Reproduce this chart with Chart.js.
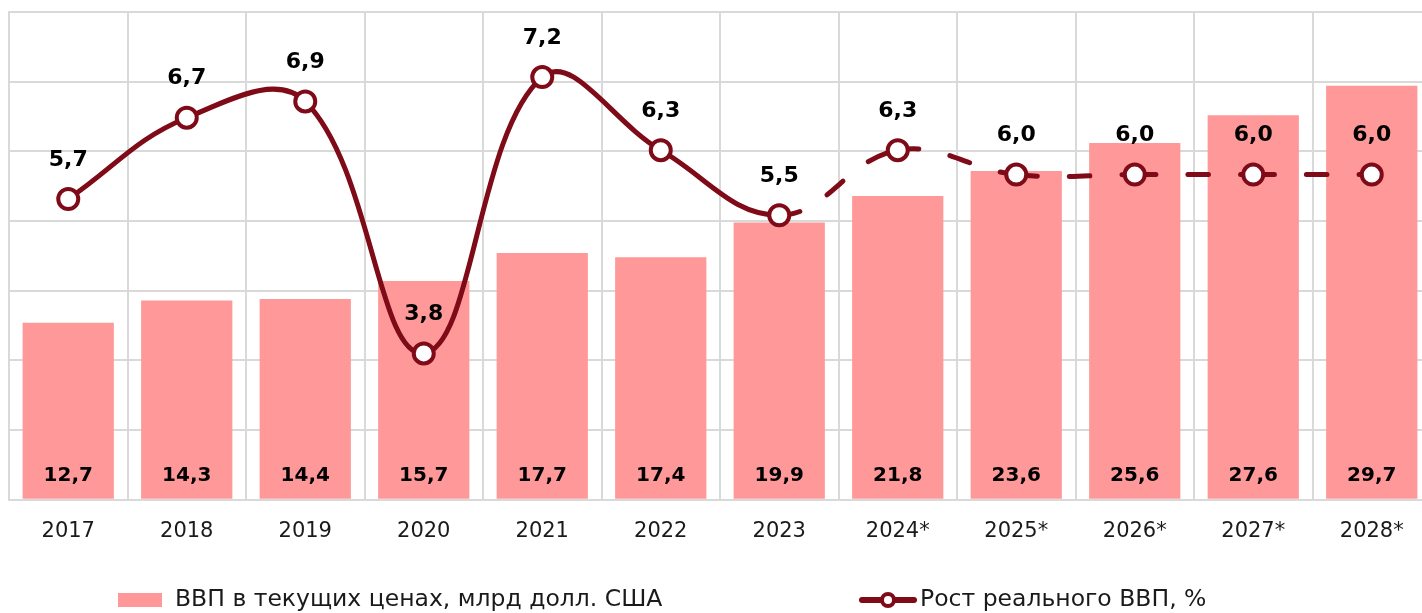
<!DOCTYPE html>
<html><head><meta charset="utf-8">
<script src="https://cdn.jsdelivr.net/npm/chart.js@4/dist/chart.umd.min.js"></script>
<style>
html,body{margin:0;padding:0;background:#fff;overflow:hidden;width:1422px;height:613px;}
#outer{width:1422px;height:613px;overflow:hidden;position:relative;}
#wrap{width:1432px;height:613px;position:absolute;left:0;top:0;}
canvas{display:block;}
</style></head>
<body>
<div id="outer"><div id="wrap"><canvas id="c"></canvas></div></div>
<script>
const categories = ['2017','2018','2019','2020','2021','2022','2023','2024*','2025*','2026*','2027*','2028*'];
const gdpNominal = [12.7,14.3,14.4,15.7,17.7,17.4,19.9,21.8,23.6,25.6,27.6,29.7];
const gdpGrowth = [5.7,6.7,6.9,3.8,7.2,6.3,5.5,6.3,6.0,6.0,6.0,6.0];
const forecastStart = 6;
const seriesNames = ['ВВП в текущих ценах, млрд долл. США','Рост реального ВВП, %'];

const BAR = '#ff9999', LINE = '#7e0b17', GRID = '#d9d9d9';
const FONT = "'DejaVu Sans', sans-serif";
const fmt = v => v.toFixed(1).replace('.', ',');

const labelPlugin = {
  id: 'labels',
  afterDatasetsDraw(chart) {
    const ctx = chart.ctx;
    ctx.save();
    ctx.fillStyle = '#000';
    ctx.textAlign = 'center';
    ctx.textBaseline = 'middle';
    const barMeta = chart.getDatasetMeta(1);
    ctx.font = "bold 20px " + FONT;
    barMeta.data.forEach((el, i) => {
      ctx.fillText(fmt(gdpNominal[i]), el.x, chart.scales.y.getPixelForValue(0) - 24);
    });
    const lineMeta = chart.getDatasetMeta(0);
    ctx.font = "bold 22px " + FONT;
    lineMeta.data.forEach((el, i) => {
      ctx.fillText(fmt(gdpGrowth[i]), el.x, el.y - 39);
    });
    ctx.restore();
  },
  afterDraw(chart) {
    const ctx = chart.ctx;
    ctx.save();
    const cy = 600;
    ctx.fillStyle = BAR;
    ctx.fillRect(118, cy - 7, 44, 14);
    ctx.fillStyle = '#1a1a1a';
    ctx.font = "23.5px " + FONT;
    ctx.textBaseline = 'middle';
    ctx.textAlign = 'left';
    ctx.fillText(seriesNames[0], 175, cy);
    ctx.strokeStyle = LINE;
    ctx.lineWidth = 6;
    ctx.lineCap = 'round';
    ctx.beginPath(); ctx.moveTo(862, cy); ctx.lineTo(914, cy); ctx.stroke();
    ctx.beginPath(); ctx.arc(888, cy, 6, 0, Math.PI * 2);
    ctx.fillStyle = '#fff'; ctx.fill();
    ctx.lineWidth = 4; ctx.stroke();
    ctx.fillStyle = '#1a1a1a';
    ctx.fillText(seriesNames[1], 920, cy);
    ctx.restore();
  }
};

new Chart(document.getElementById('c'), {
  data: {
    labels: categories,
    datasets: [
      {
        type: 'line', label: seriesNames[1], data: gdpGrowth, yAxisID: 'y2', order: 0,
        borderColor: LINE, borderWidth: 5, tension: 0.4, borderCapStyle: 'round',
        pointRadius: 10, pointBorderWidth: 4, pointBackgroundColor: '#fff', pointBorderColor: LINE,
        segment: {
          borderDash: c => c.p0DataIndex >= forecastStart ? [21, 32] : undefined,
          borderDashOffset: c => c.p0DataIndex >= forecastStart ? c.p0DataIndex * 0.001 : 0
        }
      },
      {
        type: 'bar', label: seriesNames[0], data: gdpNominal, yAxisID: 'y', order: 1,
        backgroundColor: BAR, barPercentage: 0.77, categoryPercentage: 1.0
      }
    ]
  },
  options: {
    responsive: true, maintainAspectRatio: false, animation: false, devicePixelRatio: 1,
    layout: { autoPadding: false, padding: { left: 9, right: 1, top: 12, bottom: 50 } },
    plugins: { legend: { display: false }, tooltip: { enabled: false } },
    scales: {
      x: {
        offset: true,
        grid: { offset: true, color: GRID, lineWidth: 2, drawTicks: false },
        border: { color: GRID, width: 2 },
        ticks: { color: '#1a1a1a', font: { family: FONT, size: 21 }, padding: 19, maxRotation: 0 }
      },
      y: {
        min: 0, max: 35,
        ticks: { display: false, stepSize: 5 },
        grid: { color: GRID, lineWidth: 2, drawTicks: false },
        border: { color: GRID, width: 2 }
      },
      y2: {
        min: 2, max: 8, display: false, position: 'right',
        grid: { display: false }
      }
    }
  },
  plugins: [labelPlugin]
});
</script>
</body></html>
